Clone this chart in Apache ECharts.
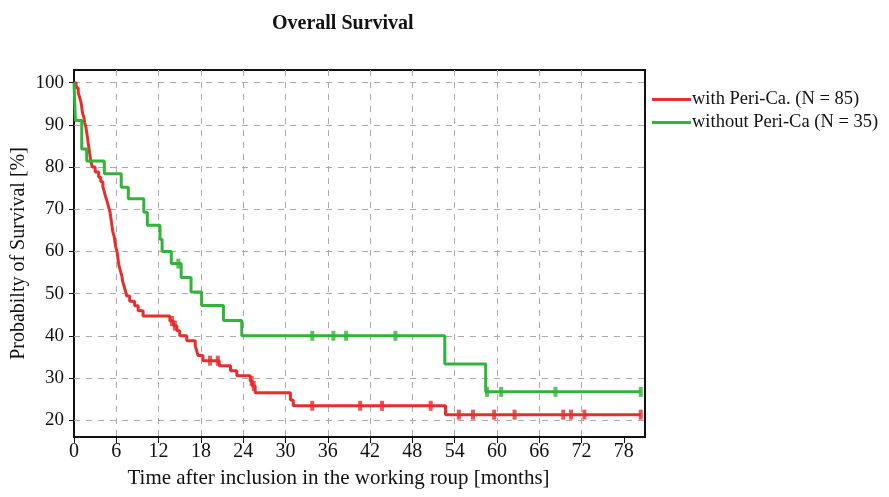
<!DOCTYPE html>
<html>
<head>
<meta charset="utf-8">
<script src="https://cdn.jsdelivr.net/npm/echarts@6/dist/echarts.min.js"></script>
<style>
  html, body { margin: 0; padding: 0; background: #fff; }
  #chart { width: 889px; height: 497px; }
</style>
</head>
<body>
<div id="chart"></div>
<script>
  // Kaplan-Meier steps: [month, survival %]
  const withTimes = [0, 0.3, 0.6, 0.8, 1.0, 1.1, 1.2, 1.4, 1.5, 1.7, 1.8, 1.9, 2.0, 2.1, 2.2, 2.3, 2.4, 2.6,
    3.0, 3.5, 3.8, 4.1, 4.3, 4.5, 4.7, 4.9, 5.1, 5.2, 5.3, 5.4, 5.5, 5.7, 5.8, 5.9, 6.1, 6.2, 6.3, 6.4,
    6.6, 6.8, 6.9, 7.1, 7.3, 7.5, 7.9, 8.6, 9.1, 9.8, 13.6, 14.1, 14.6, 15.0, 16.0, 17.2, 17.4, 17.6,
    18.3, 20.6, 22.2, 23.1, 25.0, 25.3, 25.7, 30.7, 31.1, 52.7, 80.4]
  const withSurv = [100, 98.8, 97.6, 96.5, 95.3, 94.1, 92.9, 91.8, 90.6, 89.4, 88.2, 87.1, 85.9, 84.7, 83.5, 82.4, 81.2, 80.0,
    78.8, 77.6, 76.5, 75.3, 74.1, 72.9, 71.8, 70.6, 69.4, 68.2, 67.1, 65.9, 64.7, 63.5, 62.4, 61.2, 60.0, 58.8, 57.6, 56.5,
    55.3, 54.1, 52.9, 51.8, 50.6, 49.4, 48.2, 47.1, 45.9, 44.7, 43.5, 42.4, 41.2, 40.0, 38.8, 37.6, 36.5, 35.3,
    34.1, 32.9, 31.7, 30.5, 29.3, 28.1, 26.5, 24.8, 23.4, 21.3, 21.3]
  const withCensTimes = [13.9, 14.3, 19.3, 20.4, 25.2, 25.5, 33.8, 40.6, 43.7, 50.6, 54.6, 56.6, 59.6, 62.5, 69.4, 70.5, 72.4, 80.4]
  const withCensSurv = [43.5, 42.4, 34.1, 34.1, 29.3, 28.1, 23.4, 23.4, 23.4, 23.4, 21.3, 21.3, 21.3, 21.3, 21.3, 21.3, 21.3, 21.3]

  const withoutTimes = [0, 0.2, 1.1, 1.8, 4.3, 6.7, 7.7, 9.9, 10.4, 12.2, 12.5, 13.8, 15.2, 16.6, 18.1, 21.2, 23.8, 52.6, 58.4, 80.4]
  const withoutSurv = [100, 91.0, 84.3, 81.4, 78.4, 75.2, 72.5, 69.3, 66.2, 62.9, 60.0, 57.1, 53.8, 50.4, 47.2, 43.6, 40.0, 33.3, 26.7, 26.7]
  const withoutCensTimes = [14.8, 33.8, 36.8, 38.6, 45.6, 58.6, 60.6, 68.3, 80.4]
  const withoutCensSurv = [57.1, 40.0, 40.0, 40.0, 40.0, 26.7, 26.7, 26.7, 26.7]

  const xTicks = [0, 6, 12, 18, 24, 30, 36, 42, 48, 54, 60, 66, 72, 78]
  const yTicks = [20, 30, 40, 50, 60, 70, 80, 90, 100]
  const seriesNames = ['with Peri-Ca. (N = 85)', 'without Peri-Ca (N = 35)']

  const red = '#e62e2d'
  const green = '#33b33a'
  const font = 'Liberation Serif'

  const pairs = (xs, ys) => xs.map((x, i) => [x, ys[i]])

  const chart = echarts.init(document.getElementById('chart'))
  const option = {
    animation: false,
    title: {
      text: 'Overall Survival',
      left: 267,
      top: 9,
      textStyle: { fontFamily: font, fontSize: 20, fontWeight: 'bold', color: '#111' }
    },
    legend: {
      data: seriesNames,
      orient: 'vertical',
      left: 647,
      top: 85,
      itemWidth: 39,
      itemHeight: 3,
      itemGap: 4,
      icon: 'rect',
      textStyle: { fontFamily: font, fontSize: 18.5, color: '#111', padding: [0, 0, 0, -4] }
    },
    grid: {
      left: 74,
      right: 244,
      top: 70,
      bottom: 60,
      outerBoundsMode: 'none',
      show: true,
      borderColor: '#111',
      borderWidth: 2
    },
    xAxis: {
      type: 'value',
      min: 0,
      max: 81,
      interval: 6,
      name: 'Time after inclusion in the working roup [months]',
      nameLocation: 'middle',
      nameGap: 31,
      nameTextStyle: { fontFamily: font, fontSize: 21, color: '#111', padding: [0, 42, 0, 0] },
      axisLine: { lineStyle: { color: '#111', width: 2 } },
      axisTick: { length: 6, customValues: xTicks, lineStyle: { color: '#111' } },
      axisLabel: { fontFamily: font, fontSize: 20, color: '#111', margin: 5, customValues: xTicks },
      splitLine: { showMinLine: false, showMaxLine: false, lineStyle: { color: '#aaa', type: [6, 6] } }
    },
    yAxis: {
      type: 'value',
      min: 16,
      max: 103,
      name: 'Probabilty of Survival [%]',
      nameLocation: 'middle',
      nameGap: 45,
      nameMoveOverlap: false,
      nameTextStyle: { fontFamily: font, fontSize: 20, color: '#111' },
      axisLine: { show: true, lineStyle: { color: '#111', width: 2 } },
      axisTick: { show: true, length: 5, customValues: yTicks, lineStyle: { color: '#111' } },
      axisLabel: { fontFamily: font, fontSize: 19, color: '#111', margin: 10, customValues: yTicks },
      splitLine: { show: false }
    },
    series: [
      {
        name: seriesNames[0],
        type: 'line',
        step: 'end',
        symbol: 'none',
        z: 3,
        lineStyle: { color: red, width: 3 },
        itemStyle: { color: red },
        data: pairs(withTimes, withSurv),
        markLine: {
          silent: true,
          symbol: 'none',
          label: { show: false },
          z: 1,
          lineStyle: { color: '#aaa', type: [6, 6], width: 1 },
          data: yTicks.map(v => ({ yAxis: v }))
        }
      },
      {
        name: seriesNames[1],
        type: 'line',
        step: 'end',
        symbol: 'none',
        z: 4,
        lineStyle: { color: green, width: 3 },
        itemStyle: { color: green },
        data: pairs(withoutTimes, withoutSurv)
      },
      {
        name: 'with censored',
        type: 'scatter',
        symbol: 'rect',
        symbolSize: [4, 10],
        z: 5,
        itemStyle: { color: red },
        data: pairs(withCensTimes, withCensSurv)
      },
      {
        name: 'without censored',
        type: 'scatter',
        symbol: 'rect',
        symbolSize: [4, 10],
        z: 5,
        itemStyle: { color: green },
        data: pairs(withoutCensTimes, withoutCensSurv)
      }
    ]
  }
  chart.setOption(option)
</script>
</body>
</html>
